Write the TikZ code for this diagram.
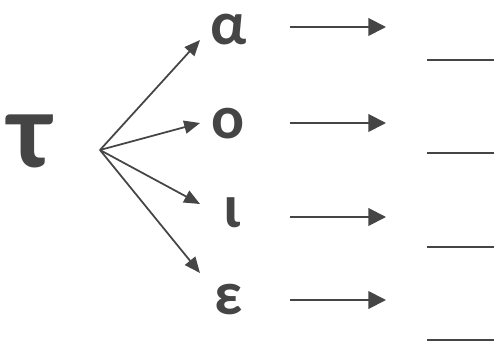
\documentclass[tikz,border=0pt]{standalone}
\usepackage{fontspec}
\setmainfont{Carlito}
\usetikzlibrary{arrows.meta}
\definecolor{ink}{HTML}{454545}
\tikzset{
  letter/.style={font=\bfseries\fontsize{35}{35}\selectfont, text=ink, inner sep=0pt},
  fanarrow/.style={ink, line width=1pt, -{Triangle[length=9pt,width=7.5pt]}},
  rowarrow/.style={ink, line width=1.1pt, -{Triangle[length=10pt,width=10pt]}},
  blank/.style={ink, line width=1.7pt}
}

\begin{document}
\begin{tikzpicture}[x=0.02cm,y=-0.02cm]
\useasboundingbox (0,0) rectangle (496,347);
\node[letter, font=\bfseries\fontsize{62}{62}\selectfont] (t) at (30,141) {τ};
\coordinate (fan) at (100,150);
\node[letter] (a) at (229,30) {α};
\node[letter] (o) at (228,124) {ο};
\node[letter] (i) at (232,213) {ι};
\node[letter] (e) at (229,300) {ε};
% tips of the fan
\coordinate (ta) at (200,40); \coordinate (to) at (200,123);
\coordinate (ti) at (200,204); \coordinate (te) at (200,273);
\foreach \p in {a,o,i,e}{\draw[fanarrow] (fan) -- (t\p);}
% arrows and blanks on the right
\foreach \p/\y/\z in {a/27/60,o/123/153,i/217/247,e/300/340}{
  \coordinate (s\p) at (290,\y); \coordinate (r\p) at (386,\y);
  \coordinate (bl\p) at (427,\z); \coordinate (br\p) at (494,\z);
  \draw[rowarrow] (s\p) -- (r\p);
  \draw[blank] (bl\p) -- (br\p);
}
\end{tikzpicture}
\end{document}
